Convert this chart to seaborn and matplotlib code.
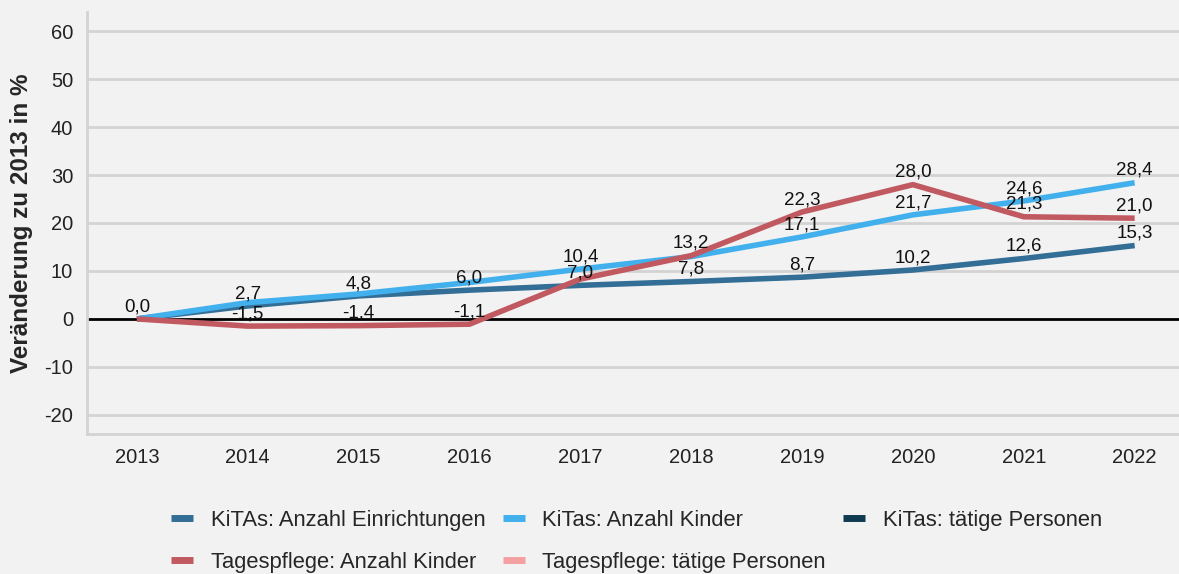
import matplotlib
matplotlib.use("Agg")
import matplotlib.pyplot as plt
import seaborn as sns
import pandas as pd
from matplotlib.lines import Line2D

years = [2013, 2014, 2015, 2016, 2017, 2018, 2019, 2020, 2021, 2022]
kita_einrichtungen = [0.0, 2.7, 4.8, 6.0, 7.0, 7.8, 8.7, 10.2, 12.6, 15.3]
kita_kinder = [0.0, 3.4, 5.2, 7.6, 10.4, 13.0, 17.1, 21.7, 24.6, 28.4]
tagespflege_kinder = [0.0, -1.5, -1.4, -1.1, 8.3, 13.2, 22.3, 28.0, 21.3, 21.0]

# labels shown in the original (which series gets a label at which year)
labels_einrichtungen = [0, 1, 2, 3, 4, 5, 6, 7, 8, 9]
labels_kinder = [4, 6, 7, 8, 9]
labels_tagespflege = [1, 2, 3, 5, 6, 7, 8, 9]

series_names = ["KiTAs: Anzahl Einrichtungen", "KiTas: Anzahl Kinder",
                "KiTas: tätige Personen", "Tagespflege: Anzahl Kinder",
                "Tagespflege: tätige Personen"]
colors = ["#336e96", "#41b0ec", "#0f3a50", "#c05a60", "#f4a0a0"]

BG = "#f2f2f2"
sns.set_style("white")
plt.rcParams["font.family"] = ["Liberation Sans", "DejaVu Sans"]
plt.rcParams["axes.unicode_minus"] = False

df = pd.DataFrame({
    "Jahr": years * 3,
    "Wert": kita_einrichtungen + kita_kinder + tagespflege_kinder,
    "Serie": [series_names[0]] * 10 + [series_names[1]] * 10 + [series_names[3]] * 10,
})

fig = plt.figure(figsize=(11.79, 5.74), dpi=100, facecolor=BG)
ax = fig.add_axes([87 / 1179, 1 - 434 / 574, 1 - 87 / 1179, 422 / 574])
ax.set_facecolor(BG)

for v in range(-20, 61, 10):
    if v != 0:
        ax.axhline(v, color="#d3d3d3", lw=2, zorder=0)

palette = {series_names[0]: colors[0], series_names[1]: colors[1], series_names[3]: colors[3]}
sns.lineplot(data=df, x="Jahr", y="Wert", hue="Serie", palette=palette, lw=4,
             ax=ax, legend=False, zorder=3, solid_capstyle="butt")
ax.axhline(0, color="black", lw=2, zorder=2)

def add_labels(vals, idx):
    for i in idx:
        ax.text(years[i], vals[i] + 0.8, f"{vals[i]:.1f}".replace(".", ","),
                ha="center", va="bottom", fontsize=13.5, color="#111111", zorder=5)

add_labels(kita_einrichtungen, labels_einrichtungen)
add_labels(kita_kinder, labels_kinder)
add_labels(tagespflege_kinder, labels_tagespflege)

ax.set_xlim(2012.55, 2022.4)
ax.set_ylim(-24, 64)
ax.set_xticks(years)
ax.set_yticks(range(-20, 61, 10))
ax.tick_params(axis="both", length=0, labelsize=14.5, colors="#222222")
ax.tick_params(axis="x", pad=10)
ax.tick_params(axis="y", pad=10)
ax.set_xlabel("")
ax.set_ylabel("Veränderung zu 2013 in %", fontsize=17.5, fontweight="bold", labelpad=8)
for s in ["top", "right"]:
    ax.spines[s].set_visible(False)
for s in ["left", "bottom"]:
    ax.spines[s].set_color("#d3d3d3")
    ax.spines[s].set_linewidth(2)

handles = [Line2D([], [], color=c, lw=5, solid_capstyle="butt") for c in colors]
order = [0, 3, 1, 4, 2]
fig.legend([handles[i] for i in order], [series_names[i] for i in order],
           loc="center", bbox_to_anchor=(0.54, 0.057), ncol=3, frameon=False,
           fontsize=15.8, handlelength=1.0, handletextpad=0.8, columnspacing=0.8,
           labelspacing=0.95)

fig.savefig("out.png", dpi=100, facecolor=BG)
